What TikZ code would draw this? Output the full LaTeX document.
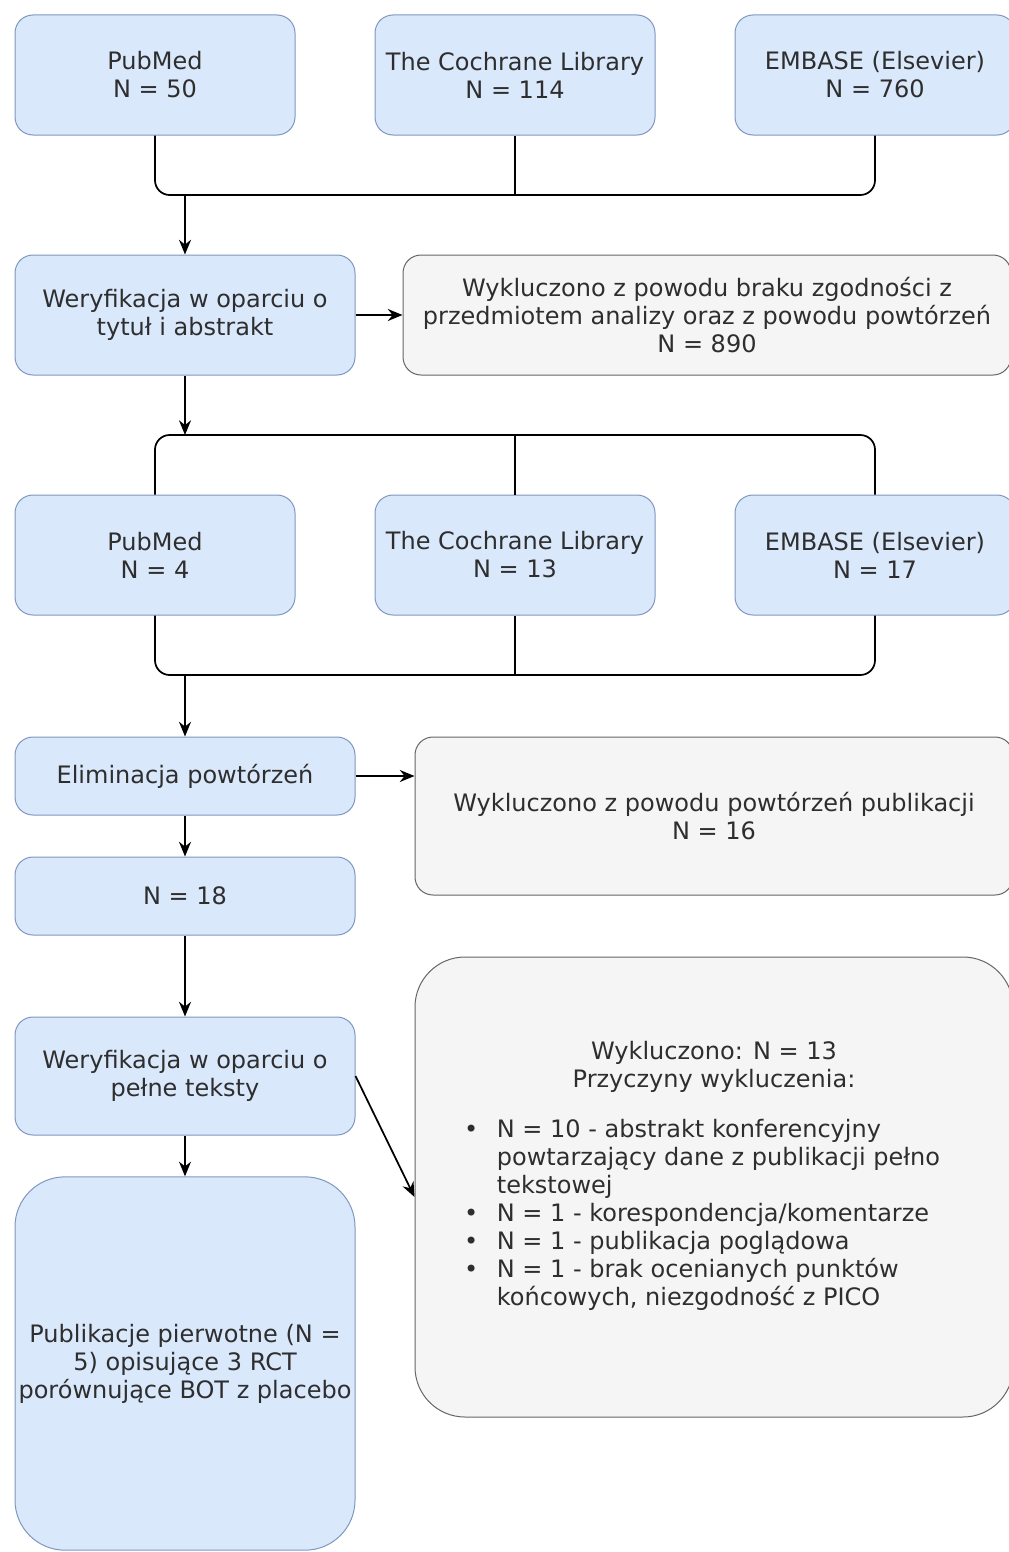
\documentclass[tikz,border=0pt]{standalone}
\usepackage{fontspec}
\setmainfont{DejaVu Sans}
\usetikzlibrary{arrows.meta}
\definecolor{boxblue}{HTML}{DAE8FC}
\definecolor{boxblueline}{HTML}{7F97BF}
\definecolor{boxgray}{HTML}{F5F5F5}
\definecolor{boxgrayline}{HTML}{666666}
\definecolor{boxtext}{HTML}{2E2E2E}
\tikzset{
	% Blue boxes for the databases and the steps, grey boxes for the exclusions
	source node/.style={rectangle,draw=boxblueline,fill=boxblue,line width=0.75pt,rounded corners=13.5pt,minimum width=210pt,minimum height=90pt,inner sep=0pt,align=center,text=boxtext},
	step node/.style={source node,minimum width=255pt},
	exclusion node/.style={rectangle,draw=boxgrayline,fill=boxgray,line width=0.75pt,rounded corners=13.5pt,inner sep=0pt,align=center,text=boxtext},
	flow line/.style={draw=black,line width=1.3pt,rounded corners=11pt},
	flow arrow/.style={flow line,-{Stealth[length=11pt,width=9pt]}}
}

\begin{document}
\begin{tikzpicture}[x=0.75pt,y=-0.75pt,font=\fontsize{18}{21}\selectfont]
	\useasboundingbox (0,0) rectangle (1009,1552);
	% first search
	\node[source node] (pm1) at (155,75) {PubMed\\N = 50};
	\node[source node] (cl1) at (515,75) {The Cochrane Library\\N = 114};
	\node[source node] (em1) at (875,75) {EMBASE (Elsevier)\\N = 760};
	\coordinate (join1) at (185,195);
	
	\node[step node] (ver1) at (185,315) {Weryfikacja w oparciu o\\tytuł i abstrakt};
	\node[exclusion node,minimum width=456pt,minimum height=90pt] (ex1) at (707,315) {Wykluczono z powodu braku zgodności z\\przedmiotem analizy oraz z powodu powtórzeń\\N = 890};
	\coordinate (split2) at (185,435);
	
	% second search
	\node[source node] (pm2) at (155,555) {PubMed\\N = 4};
	\node[source node] (cl2) at (515,555) {The Cochrane Library\\N = 13};
	\node[source node] (em2) at (875,555) {EMBASE (Elsevier)\\N = 17};
	\coordinate (join3) at (185,675);
	
	\node[step node,minimum height=58.5pt] (elim) at (185,776) {Eliminacja powtórzeń};
	\node[exclusion node,minimum width=448.5pt,minimum height=118.5pt] (ex2) at (714,816) {Wykluczono z powodu powtórzeń publikacji\\N = 16};
	\node[step node,minimum height=58.5pt] (n18) at (185,896) {N = 18};
	\node[step node,minimum height=88.5pt] (ver2) at (185,1076) {Weryfikacja w oparciu o\\pełne teksty};
	\node[step node,minimum height=280pt,rounded corners=37.5pt] (final) at (185,1363.5) {Publikacje pierwotne (N =\\5) opisujące 3 RCT\\porównujące BOT z placebo};
	\node[exclusion node,minimum width=448.5pt,minimum height=345pt,rounded corners=37.5pt] (ex3) at (714,1187) {};
	\node[text=boxtext,align=center] (ex3text) at (714,1178) {Wykluczono: N = 13\\Przyczyny wykluczenia:\\[18pt]
		\begin{tabular}{@{}l@{\hspace{14pt}}l@{}}
			\textbullet & N = 10 - abstrakt konferencyjny\\
			& powtarzający dane z publikacji pełno\\
			& tekstowej\\
			\textbullet & N = 1 - korespondencja/komentarze\\
			\textbullet & N = 1 - publikacja poglądowa\\
			\textbullet & N = 1 - brak ocenianych punktów\\
			& końcowych, niezgodność z PICO
		\end{tabular}\hspace*{18pt}};
	
	% connectors
	\draw[flow line] (pm1.south) |- (join1) -| (em1.south);
	\draw[flow line] (cl1.south) -- (cl1.south |- join1);
	\draw[flow arrow] (join1) -- (ver1.north);
	\draw[flow arrow] (ver1.east) -- (ex1.west);
	\draw[flow arrow] (ver1.south) -- (split2);
	\draw[flow line] (pm2.north) |- (split2) -| (em2.north);
	\draw[flow line] (cl2.north) -- (cl2.north |- split2);
	\draw[flow line] (pm2.south) |- (join3) -| (em2.south);
	\draw[flow line] (cl2.south) -- (cl2.south |- join3);
	\draw[flow arrow] (join3) -- (elim.north);
	\draw[flow arrow] (elim.east) -- (ex2.west |- elim.east);
	\draw[flow arrow] (elim.south) -- (n18.north);
	\draw[flow arrow] (n18.south) -- (ver2.north);
	\draw[flow arrow] (ver2.south) -- (final.north);
	\draw[flow arrow] (ver2.east) -- ([yshift=-7.5pt]ex3.west);
\end{tikzpicture}
\end{document}
